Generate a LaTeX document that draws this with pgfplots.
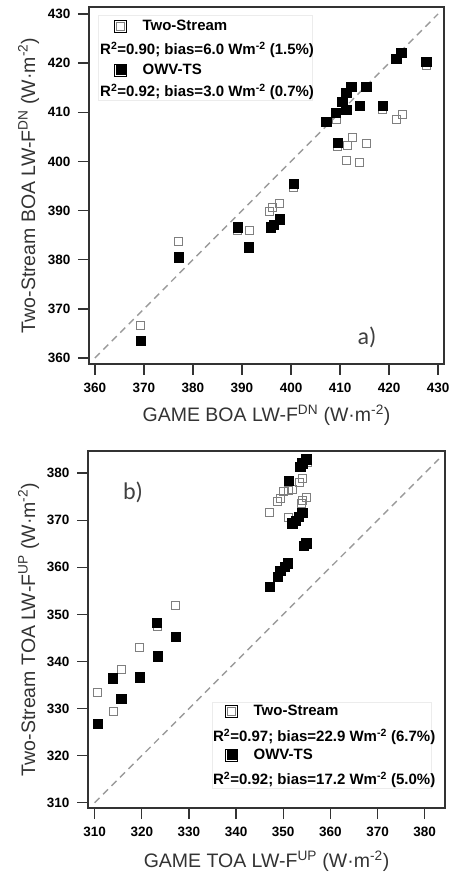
\documentclass[border=0pt]{standalone}
\usepackage{pgfplots}
\pgfplotsset{compat=1.18}
\usepackage{fontspec}
\setmainfont{Liberation Sans}
\newfontfamily\calib{Carlito}
\definecolor{framec}{HTML}{333333}
\definecolor{opengray}{HTML}{7F7F7F}
\definecolor{dashgray}{HTML}{9A9A9A}
\definecolor{lblgray}{HTML}{404040}
\tikzset{
  openm/.style={only marks, mark=square, mark size=4pt, mark options={draw=opengray, line width=0.9pt, fill=none}},
  fillm/.style={only marks, mark=square*, mark size=4.6pt, mark options={draw=black, fill=black, line width=0.4pt}},
}
\pgfplotsset{
  myax/.style={
    scale only axis, anchor=south west,
    axis line style={framec, line width=1.3pt},
    tick align=outside, xtick pos=bottom, ytick pos=left,
    major tick length=11pt,
    tick style={framec, line width=1.3pt},
    tick label style={font=\fontsize{13.5}{16}\selectfont\bfseries},
    /pgf/number format/assume math mode=true,
    /pgf/number format/1000 sep={},
    xticklabel style={yshift=-5pt},
    yticklabel style={xshift=-4pt},
    label style={font=\fontsize{19.5}{22}\selectfont, text=framec},
    legend style={draw=none, fill=none, inner sep=0pt, row sep=31pt, column sep=16pt,
      font=\fontsize{15}{18}\selectfont\bfseries, anchor=north west,
      nodes={inner sep=0pt}},
    legend cell align=left,
    legend image code/.code={\path (-6pt,-6pt) rectangle (6pt,6pt); \draw[##1] plot coordinates {(0pt,0pt)};},
  },
  diag/.style={dashgray, line width=1.4pt, dash pattern=on 7pt off 5pt, forget plot},
}
\begin{document}
\begin{tikzpicture}
\useasboundingbox (0,0) rectangle (452pt,872pt);
% ---------------- panel a ----------------
\begin{axis}[myax,
  at={(89pt,508pt)}, width=355pt, height=357pt,
  xmin=358.8, xmax=431.2, ymin=358.8, ymax=431.4,
  xtick={360,370,...,430}, ytick={360,370,...,430},
  xlabel={GAME BOA LW-F\textsuperscript{DN} (W·m\textsuperscript{-2})},
  ylabel={Two-Stream BOA LW-F\textsuperscript{DN} (W·m\textsuperscript{-2})},
  xlabel style={at={(axis description cs:0.5,-0.162)}, anchor=base},
  ylabel style={at={(axis description cs:-0.152,0.5)}, anchor=base},
  legend style={at={(axis description cs:0.0704,0.9636)}},
]
\addplot[diag] coordinates {(360,360) (430,430)};
\addplot[openm, forget plot] coordinates {
(369.31,366.72) (377.11,383.69) (389.06,385.87) (391.43,385.93) (395.64,389.80)
(396.31,390.69) (397.54,391.51) (400.53,394.77) (409.23,408.61) (409.55,403.03)
(412.49,404.87) (411.59,403.24) (415.34,403.73) (411.26,400.18) (413.97,399.86)
(418.72,410.51) (421.57,408.47) (422.79,409.49) (427.56,419.53)
};
\addplot[fillm, forget plot] coordinates {
(369.31,363.52) (377.11,380.51) (389.06,386.62) (391.43,382.55) (395.78,386.62)
(396.46,387.09) (397.68,388.25) (400.53,395.44) (407.19,408.13) (409.08,409.84)
(409.55,403.85) (410.45,412.20) (411.26,413.91) (411.26,410.51) (412.28,415.25)
(413.97,411.32) (415.34,415.13) (418.72,411.32) (421.45,420.84) (422.46,422.06)
(427.56,420.35)
};
\addlegendimage{openm}\addlegendentry{Two-Stream}
\addlegendimage{fillm}\addlegendentry{OWV-TS}
\draw[gray!15, line width=0.6pt] (axis description cs:0.025,0.978) rectangle (axis description cs:0.628,0.7395);
\node[anchor=west, inner sep=0pt, font=\fontsize{15}{18}\selectfont\bfseries] at (axis description cs:0.031,0.8796) {R\textsuperscript{2}=0.90; bias=6.0 Wm\textsuperscript{-2} (1.5\%)};
\node[anchor=west, inner sep=0pt, font=\fontsize{15}{18}\selectfont\bfseries] at (axis description cs:0.031,0.7619) {R\textsuperscript{2}=0.92; bias=3.0 Wm\textsuperscript{-2} (0.7\%)};
\node[text=lblgray, font=\calib\fontsize{24}{28}\selectfont] at (axis description cs:0.783,0.0756) {a)};
\end{axis}
% ---------------- panel b ----------------
\begin{axis}[myax,
  at={(88pt,64pt)}, width=357pt, height=357pt,
  xmin=308.6, xmax=384.3, ymin=308.9, ymax=384.7,
  xtick={310,320,...,380}, ytick={310,320,...,380},
  xlabel={GAME TOA LW-F\textsuperscript{UP} (W·m\textsuperscript{-2})},
  ylabel={Two-Stream TOA LW-F\textsuperscript{UP} (W·m\textsuperscript{-2})},
  xlabel style={at={(axis description cs:0.5,-0.168)}, anchor=base},
  ylabel style={at={(axis description cs:-0.148,0.5)}, anchor=base},
  legend style={at={(axis description cs:0.3838,0.2885)}},
]
\addplot[diag] coordinates {(310,310) (383,383)};
\addplot[openm, forget plot] coordinates {
(310.64,333.35) (314.03,329.38) (315.66,338.39) (319.53,343.06) (323.41,347.43)
(327.16,351.89) (355.19,382.25) (354.00,378.94) (353.43,378.00) (352.01,376.60)
(351.17,376.31) (350.04,376.09) (349.34,374.69) (348.83,373.97) (354.85,374.90)
(354.13,374.18) (353.79,373.48) (347.08,371.64) (351.17,370.66)
};
\addplot[fillm, forget plot] coordinates {
(310.64,326.77) (313.88,336.48) (315.66,332.08) (319.53,336.69) (323.20,348.28)
(323.41,341.15) (327.16,345.35) (354.85,382.97) (354.00,382.12) (353.58,381.40)
(351.17,378.43) (354.00,371.64) (353.28,370.79) (352.58,369.94) (351.89,369.39)
(354.85,365.14) (354.28,364.56) (350.95,360.89) (350.25,360.17) (349.34,359.32)
(348.83,358.05) (347.08,355.92)
};
\addlegendimage{openm}\addlegendentry{Two-Stream}
\addlegendimage{fillm}\addlegendentry{OWV-TS}
\draw[gray!15, line width=0.6pt] (axis description cs:0.347,0.297) rectangle (axis description cs:0.961,0.056);
\node[anchor=west, inner sep=0pt, font=\fontsize{15}{18}\selectfont\bfseries] at (axis description cs:0.350,0.1989) {R\textsuperscript{2}=0.97; bias=22.9 Wm\textsuperscript{-2} (6.7\%)};
\node[anchor=west, inner sep=0pt, font=\fontsize{15}{18}\selectfont\bfseries] at (axis description cs:0.350,0.0784) {R\textsuperscript{2}=0.92; bias=17.2 Wm\textsuperscript{-2} (5.0\%)};
\node[text=lblgray, font=\calib\fontsize{24}{28}\selectfont] at (axis description cs:0.126,0.885) {b)};
\end{axis}
\end{tikzpicture}
\end{document}
